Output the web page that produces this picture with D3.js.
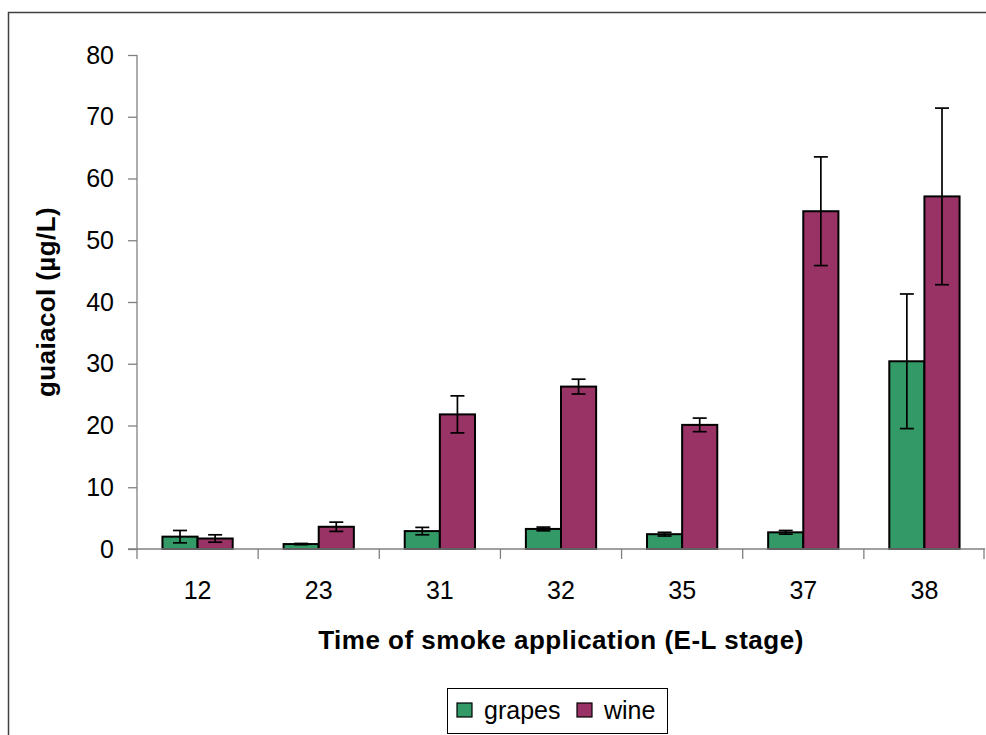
<!DOCTYPE html>
<html>
<head>
<meta charset="utf-8">
<script src="https://cdn.jsdelivr.net/npm/d3@7"></script>
<style>
  body { margin: 0; background: #fff; }
  svg { display: block; font-family: "Liberation Sans", Arial, sans-serif; }
</style>
</head>
<body>
<svg id="chart" width="986" height="735"></svg>
<script>
var stages = ["12", "23", "31", "32", "35", "37", "38"];
var grapes = [2.0, 0.8, 2.9, 3.25, 2.4, 2.7, 30.4];
var grapesErr = [1.0, 0.1, 0.6, 0.3, 0.3, 0.3, 10.9];
var wine = [1.7, 3.6, 21.8, 26.3, 20.1, 54.7, 57.1];
var wineErr = [0.6, 0.75, 3.0, 1.2, 1.1, 8.8, 14.3];
var yTicks = [0, 10, 20, 30, 40, 50, 60, 70, 80];
var seriesNames = ["grapes", "wine"];
var colors = ["#339966", "#993366"];

var svg = d3.select("#chart"),
    MARGINS = { top: 55, right: 1, bottom: 186, left: 137 },
    WIDTH = 986, HEIGHT = 735;

// outer frame
svg.append("rect")
   .attr("x", 8.5).attr("y", 12.5)
   .attr("width", 990).attr("height", 740)
   .attr("fill", "none").attr("stroke", "#404040").attr("stroke-width", 1.5);

var x = d3.scaleBand().domain(stages).range([MARGINS.left, WIDTH - MARGINS.right]);
var y = d3.scaleLinear().domain([0, 80]).range([HEIGHT - MARGINS.bottom, MARGINS.top]);

var series = [
  { name: seriesNames[0], values: grapes, err: grapesErr, color: colors[0] },
  { name: seriesNames[1], values: wine, err: wineErr, color: colors[1] }
];

var barW = x.bandwidth() * 0.29;
var groupOff = (x.bandwidth() - 2 * barW) / 2;

// y axis
var yAxis = svg.append("g")
   .attr("transform", "translate(" + MARGINS.left + ",0)")
   .call(d3.axisLeft(y).tickValues(yTicks).tickSize(9).tickPadding(14));
yAxis.selectAll("line, path").attr("stroke", "#808080").attr("stroke-width", 1.3);
yAxis.select(".domain").attr("d", "M0," + y(80) + "V" + y(0));
yAxis.attr("font-size", 25).attr("font-family", "Liberation Sans, Arial, sans-serif");
yAxis.selectAll("text").attr("fill", "#000");

// bars
series.forEach(function(s, si) {
  var g = svg.append("g");
  g.selectAll("rect")
   .data(stages)
   .enter().append("rect")
   .attr("x", function(d) { return x(d) + groupOff + si * barW; })
   .attr("y", function(d, i) { return y(s.values[i]); })
   .attr("width", barW)
   .attr("height", function(d, i) { return y(0) - y(s.values[i]); })
   .attr("fill", s.color)
   .attr("stroke", "#000")
   .attr("stroke-width", 2);

  // error bars
  var eb = g.selectAll(".err")
   .data(stages)
   .enter().append("g")
   .attr("stroke", "#000").attr("stroke-width", 1.7);
  eb.append("line")
   .attr("x1", function(d) { return x(d) + groupOff + si * barW + barW / 2; })
   .attr("x2", function(d) { return x(d) + groupOff + si * barW + barW / 2; })
   .attr("y1", function(d, i) { return y(s.values[i] + s.err[i]); })
   .attr("y2", function(d, i) { return y(s.values[i] - s.err[i]); });
  [1, -1].forEach(function(sign) {
    eb.append("line")
     .attr("x1", function(d) { return x(d) + groupOff + si * barW + barW / 2 - 7; })
     .attr("x2", function(d) { return x(d) + groupOff + si * barW + barW / 2 + 7; })
     .attr("y1", function(d, i) { return y(s.values[i] + sign * s.err[i]); })
     .attr("y2", function(d, i) { return y(s.values[i] + sign * s.err[i]); });
  });
});

// x axis
var xAxisG = svg.append("g")
   .attr("transform", "translate(0," + y(0) + ")");
xAxisG.append("path")
   .attr("d", "M" + (MARGINS.left - 9) + ",0H" + (WIDTH - MARGINS.right))
   .attr("stroke", "#808080").attr("stroke-width", 1.3);
xAxisG.selectAll(".tk")
   .data(stages.concat(["end"]))
   .enter().append("line")
   .attr("x1", function(d, i) { return i < stages.length ? x(d) : x(stages[stages.length - 1]) + x.bandwidth() - 1; })
   .attr("x2", function(d, i) { return i < stages.length ? x(d) : x(stages[stages.length - 1]) + x.bandwidth() - 1; })
   .attr("y1", 0).attr("y2", 10)
   .attr("stroke", "#808080").attr("stroke-width", 1.3);
xAxisG.selectAll(".lbl")
   .data(stages)
   .enter().append("text")
   .attr("x", function(d) { return x(d) + x.bandwidth() / 2; })
   .attr("y", 50)
   .attr("text-anchor", "middle")
   .attr("font-size", 25)
   .text(function(d) { return d; });

// axis titles
svg.append("text")
   .attr("x", (MARGINS.left + WIDTH - MARGINS.right) / 2)
   .attr("y", 649)
   .attr("text-anchor", "middle")
   .attr("font-size", 26).attr("font-weight", "bold")
   .attr("letter-spacing", 0.5)
   .text("Time of smoke application (E-L stage)");

svg.append("text")
   .attr("transform", "translate(55," + ((y(0) + y(80)) / 2) + ") rotate(-90)")
   .attr("text-anchor", "middle")
   .attr("font-size", 26).attr("font-weight", "bold")
   .attr("letter-spacing", 0.4)
   .text("guaiacol (µg/L)");

// legend
var legend = svg.append("g").attr("transform", "translate(447,688)");
legend.append("rect")
   .attr("x", 0.5).attr("y", 0.5).attr("width", 220).attr("height", 45)
   .attr("fill", "#fff").attr("stroke", "#000").attr("stroke-width", 1);
var lx = [10, 130];
series.forEach(function(s, i) {
  legend.append("rect")
     .attr("x", lx[i]).attr("y", 15).attr("width", 15).attr("height", 14)
     .attr("fill", s.color).attr("stroke", "#000").attr("stroke-width", 1.2);
  legend.append("text")
     .attr("x", lx[i] + 27).attr("y", 31)
     .attr("font-size", 25)
     .text(s.name);
});
</script>
</body>
</html>
